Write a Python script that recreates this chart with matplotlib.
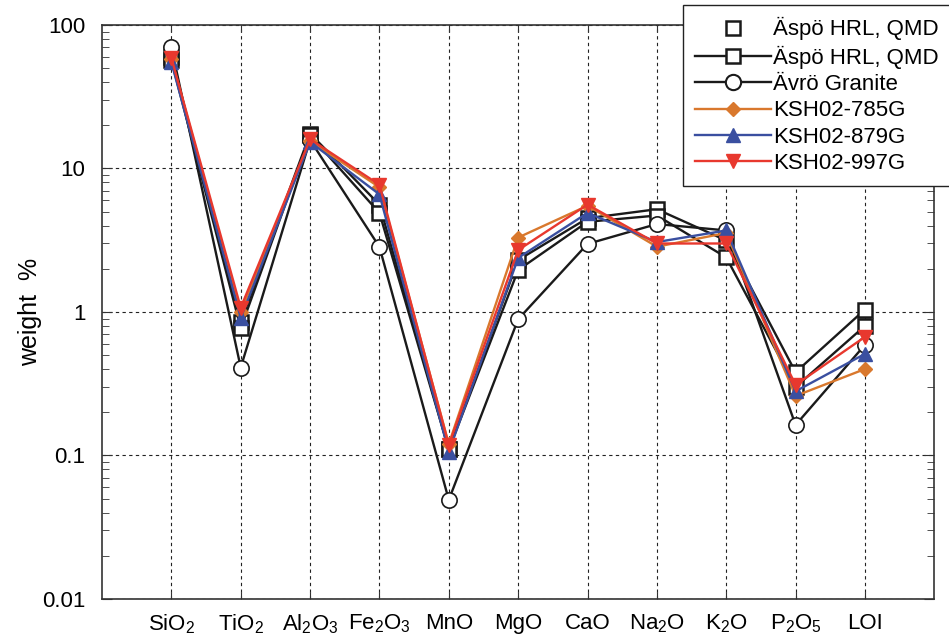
import numpy as np
import matplotlib
matplotlib.use('Agg')
from matplotlib import pyplot as plt
from matplotlib.lines import Line2D

plt.rcParams['font.family'] = ['Liberation Sans', 'DejaVu Sans']
plt.rcParams['mathtext.fontset'] = 'custom'
plt.rcParams['mathtext.rm'] = 'Liberation Sans'

# 氧化物名称
oxides = [r'SiO$_2$', r'TiO$_2$', r'Al$_2$O$_3$', r'Fe$_2$O$_3$', 'MnO', 'MgO',
          'CaO', r'Na$_2$O', r'K$_2$O', r'P$_2$O$_5$', 'LOI']

aspo_1 = [60, 0.85, 17.5, 5.6, 0.11, 2.3, 4.5, 5.2, 3.15, 0.38, 1.04]
aspo_2 = [57, 0.77, 17.0, 4.9, 0.11, 1.96, 4.25, 4.7, 2.4, 0.30, 0.80]
avro = [70, 0.41, 15.8, 2.84, 0.049, 0.89, 2.98, 4.1, 3.7, 0.163, 0.59]
ksh_785 = [58, 1.0, 15.5, 7.4, 0.12, 3.3, 5.5, 2.85, 3.55, 0.26, 0.40]
ksh_879 = [55, 0.91, 15.3, 6.6, 0.106, 2.38, 4.9, 3.07, 3.7, 0.28, 0.51]
ksh_997 = [59, 1.07, 16.0, 7.7, 0.118, 2.7, 5.6, 3.0, 3.0, 0.31, 0.67]

x = np.arange(1, len(oxides) + 1)

fig = plt.figure(figsize=(9.49, 6.44), dpi=100)
ax = fig.add_axes([0.1075, 0.07, 0.877, 0.8912])

lw = 1.7
ax.plot(x, aspo_1, color='#1a1a1a', lw=lw, marker='s', ms=10, mfc='white', mec='#1a1a1a', mew=1.8)
ax.plot(x, aspo_2, color='#1a1a1a', lw=lw, marker='s', ms=10, mfc='white', mec='#1a1a1a', mew=1.8)
ax.plot(x, avro, color='#1a1a1a', lw=lw, marker='o', ms=11, mfc='white', mec='#1a1a1a', mew=1.2)
ax.plot(x, ksh_785, color='#d9782d', lw=lw, marker='D', ms=7.5, mfc='#d9782d', mec='#d9782d')
ax.plot(x, ksh_879, color='#3a4fa0', lw=lw, marker='^', ms=10, mfc='#3a4fa0', mec='#3a4fa0')
ax.plot(x, ksh_997, color='#e8382e', lw=lw, marker='v', ms=10, mfc='#e8382e', mec='#e8382e')

ax.set_yscale('log')
ax.set_ylim(0.01, 100)
ax.set_xlim(0, 12)
ax.set_xticks(x)
ax.set_xticklabels(oxides, fontsize=16)
ax.set_yticks([0.01, 0.1, 1, 10, 100])
ax.set_yticklabels(['0.01', '0.1', '1', '10', '100'], fontsize=16)
ax.tick_params(axis='both', which='both', direction='in', top=True, right=True, color='#333333')
ax.tick_params(axis='y', which='major', length=7, pad=12)
ax.tick_params(axis='y', which='minor', length=5)
ax.tick_params(axis='x', which='major', length=5, pad=10)
ax.grid(True, which='major', ls=(0, (3, 3)), color='#222222', lw=0.8)
for s in ax.spines.values():
    s.set_color('#333333')
    s.set_linewidth(1.2)

ax.set_ylabel('weight  %', fontsize=18, labelpad=0)

handles = [
    Line2D([], [], ls='none', marker='s', ms=10, mfc='white', mec='#1a1a1a', mew=1.8),
    Line2D([], [], color='#1a1a1a', lw=lw, marker='s', ms=10, mfc='white', mec='#1a1a1a', mew=1.8),
    Line2D([], [], color='#1a1a1a', lw=lw, marker='o', ms=11, mfc='white', mec='#1a1a1a', mew=1.5),
    Line2D([], [], color='#d9782d', lw=lw, marker='D', ms=7.5, mfc='#d9782d', mec='#d9782d'),
    Line2D([], [], color='#3a4fa0', lw=lw, marker='^', ms=10, mfc='#3a4fa0', mec='#3a4fa0'),
    Line2D([], [], color='#e8382e', lw=lw, marker='v', ms=10, mfc='#e8382e', mec='#e8382e'),
]
labels = ['Äspö HRL, QMD', 'Äspö HRL, QMD', 'Ävrö Granite', 'KSH02-785G', 'KSH02-879G', 'KSH02-997G']
leg = fig.legend(handles, labels, loc='upper left', bbox_to_anchor=(683 / 949, 1 - 5 / 644),
                 fontsize=16, frameon=True, fancybox=False, edgecolor='#222222',
                 framealpha=1, handlelength=3.4, handletextpad=0.1, labelspacing=0.24,
                 borderpad=0.55, borderaxespad=0)
leg.get_frame().set_linewidth(1.0)

plt.savefig('out.png', dpi=100)
